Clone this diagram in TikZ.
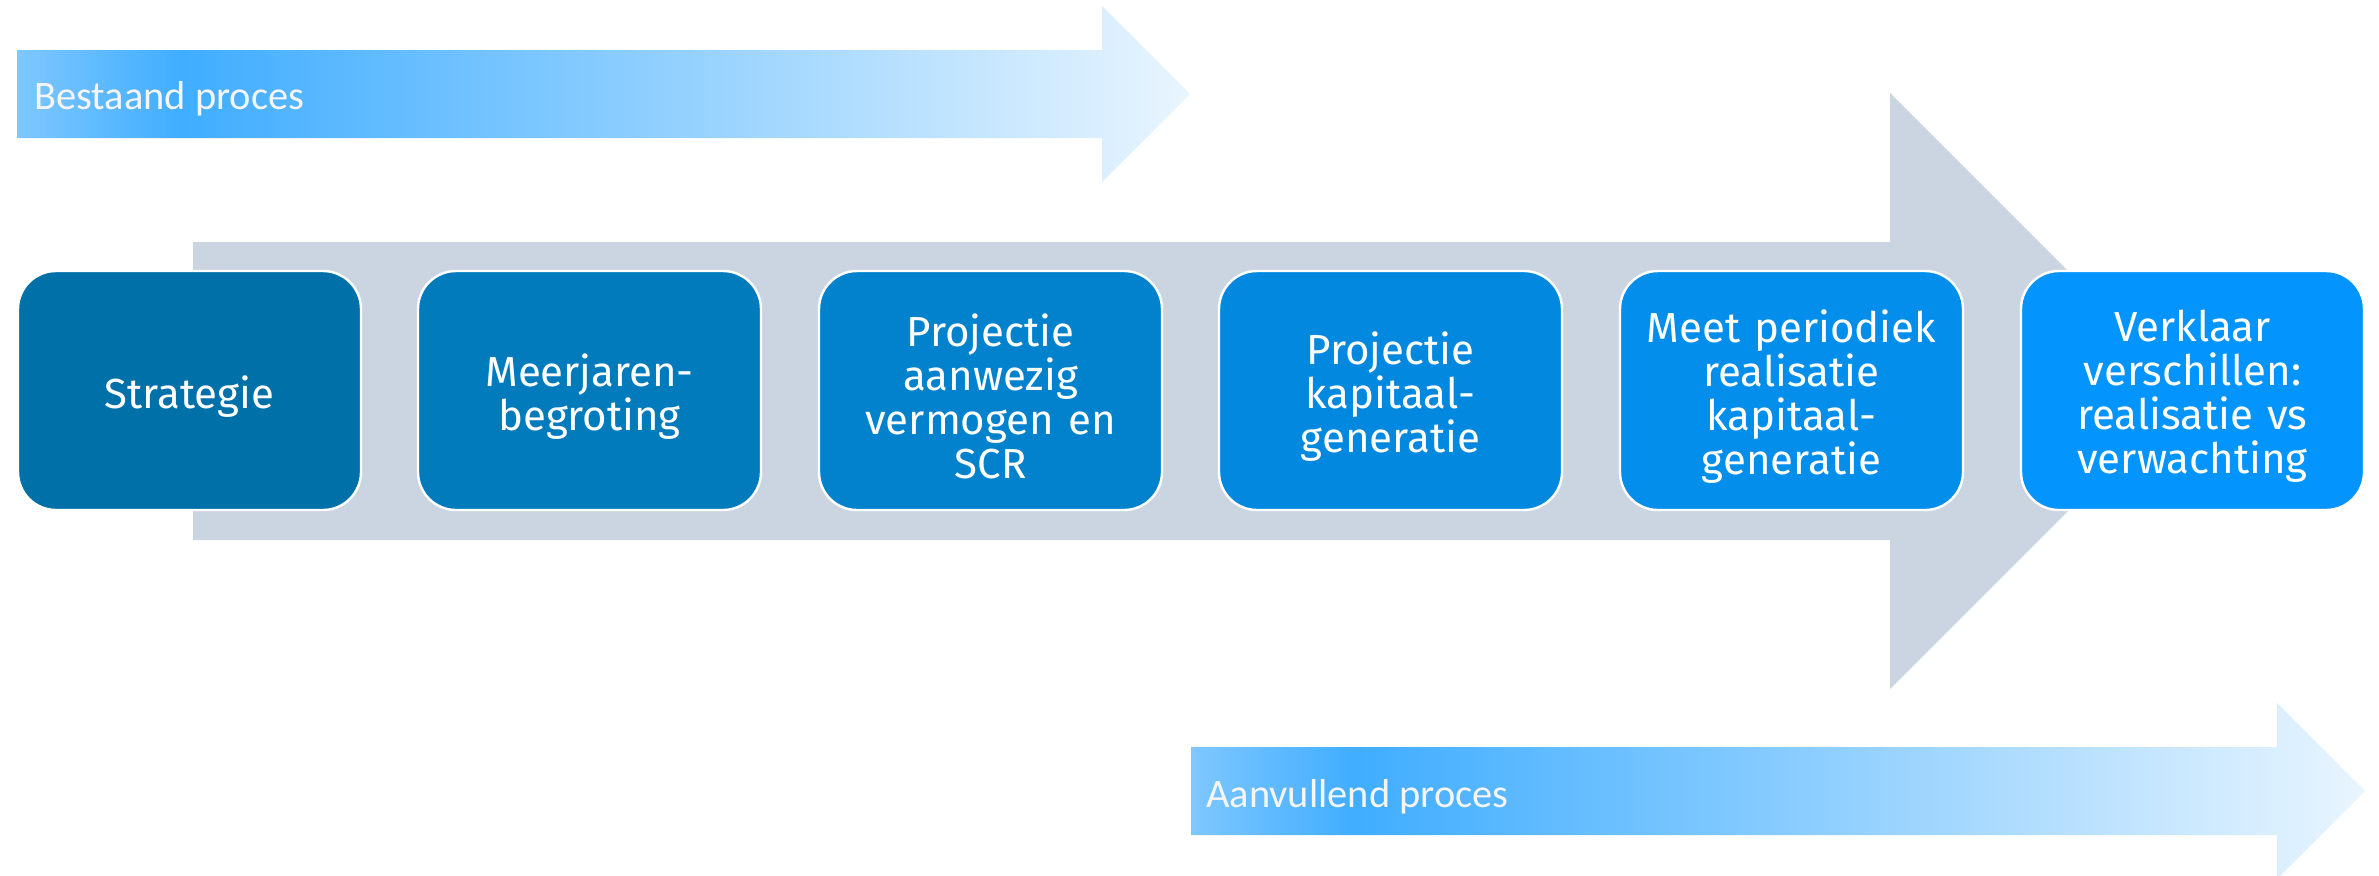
\documentclass[tikz,border=0pt]{standalone}
\usepackage{fontspec}
\setmainfont{Fira Sans}
\newfontfamily\labelfont{Carlito}
\definecolor{gshade}{HTML}{CBD5E1}
\definecolor{bA}{HTML}{0070A8}
\definecolor{bB}{HTML}{027BBD}
\definecolor{bC}{HTML}{0281CC}
\definecolor{bD}{HTML}{0288DE}
\definecolor{bE}{HTML}{038EEC}
\definecolor{bF}{HTML}{0494FD}
\definecolor{gA}{HTML}{7FC7FF}
\definecolor{gB}{HTML}{40ADFF}
\definecolor{gC}{HTML}{E9F5FE}
\pgfdeclarehorizontalshading{procshade}{100bp}{color(0bp)=(gA); color(25bp)=(gA); color(32bp)=(gB); color(75bp)=(gC); color(100bp)=(gC)}
\begin{document}
\begin{tikzpicture}[x=0.5pt,y=-0.5pt,
  stepbox/.style={draw=white, line width=1.2pt, rounded corners=19pt,
    minimum width=171.5pt, minimum height=119.5pt, inner sep=0pt},
  steptext/.style={text width=160pt, align=center, text=white, inner sep=0pt,
    yshift=-3pt, font=\fontsize{21pt}{22pt}\selectfont},
  proclabel/.style={anchor=base west, text=white!96!black, inner sep=0pt,
    font=\labelfont\fontsize{20.2pt}{24pt}\selectfont},
  procarrow/.style={shading=procshade, draw=none}]
\useasboundingbox (0,0) rectangle (2379,875);
% top arrow
\shade[procarrow] (17,50) -- (1102,50) -- (1102,6) -- (1190,94) -- (1102,182) -- (1102,138) -- (17,138) -- cycle;
\node[proclabel] (lbltop) at (34,109) {Bestaand proces};
% grey main arrow
\fill[gshade] (193,242) -- (1890,242) -- (1890,93) -- (2188,391) -- (1890,689) -- (1890,540) -- (193,540) -- cycle;
% boxes
\node[stepbox, fill=bA] (s1) at (189.5,390.5) {};
\node[stepbox, fill=bB] (s2) at (589.5,390.5) {};
\node[stepbox, fill=bC] (s3) at (990.5,390.5) {};
\node[stepbox, fill=bD] (s4) at (1390.5,390.5) {};
\node[stepbox, fill=bE] (s5) at (1791.5,390.5) {};
\node[stepbox, fill=bF] (s6) at (2192.5,390.5) {};
\node[steptext] (t1) at (s1.center) {Strategie};
\node[steptext] (t2) at (s2.center) {Meerjaren-\\begroting};
\node[steptext] (t3) at (s3.center) {Projectie\\aanwezig\\vermogen en\\SCR};
\node[steptext] (t4) at (s4.center) {Projectie\\kapitaal-\\generatie};
\node[steptext] (t5) at (s5.center) {Meet periodiek\\realisatie\\kapitaal-\\generatie};
\node[steptext] (t6) at (s6.center) {Verklaar\\verschillen:\\realisatie vs\\verwachting};
% bottom arrow
\shade[procarrow] (1191,747) -- (2277,747) -- (2277,703) -- (2365,791) -- (2277,879) -- (2277,835) -- (1191,835) -- cycle;
\node[proclabel] (lblbot) at (1206,807) {Aanvullend proces};
\end{tikzpicture}
\end{document}
